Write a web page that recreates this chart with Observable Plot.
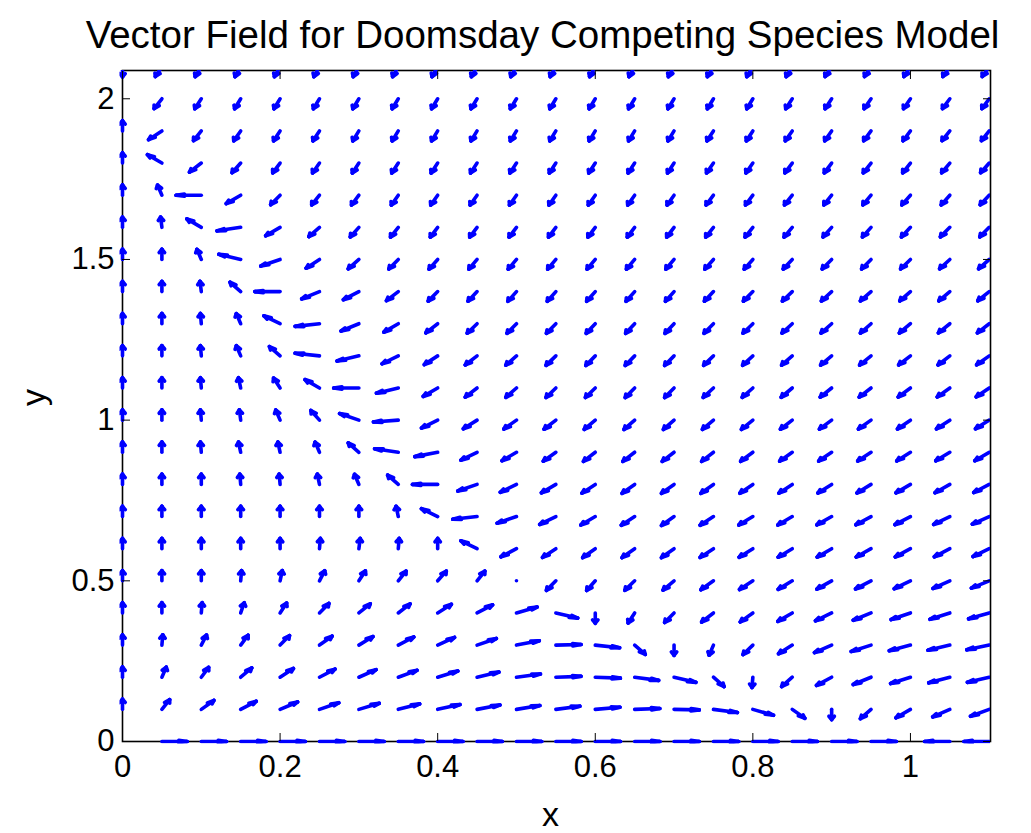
<!DOCTYPE html>
<html>
<head>
<meta charset="utf-8">
<script src="https://cdn.jsdelivr.net/npm/d3@7"></script>
<script src="https://cdn.jsdelivr.net/npm/@observablehq/plot@0.6"></script>
<style>
  html, body { margin: 0; padding: 0; background: #fff; }
  #chart { width: 1031px; height: 833px; overflow: hidden; }
</style>
</head>
<body>
<div id="chart"></div>
<script>
const title = "Vector Field for Doomsday Competing Species Model";
const xLabel = "x";
const yLabel = "y";
const xTicks = [0, 0.2, 0.4, 0.6, 0.8, 1];
const yTicks = [0, 0.5, 1, 1.5, 2];

// sample grid of the field
const xGrid = [0, 0.05, 0.1, 0.15, 0.2, 0.25, 0.3, 0.35, 0.4, 0.45, 0.5, 0.55,
               0.6, 0.65, 0.7, 0.75, 0.8, 0.85, 0.9, 0.95, 1, 1.05, 1.1];
const yGrid = [0, 0.1, 0.2, 0.3, 0.4, 0.5, 0.6, 0.7, 0.8, 0.9, 1, 1.1,
               1.2, 1.3, 1.4, 1.5, 1.6, 1.7, 1.8, 1.9, 2, 2.1];

// direction of the (normalised) field at each grid point, in degrees;
// one row per yGrid value, one column per xGrid value.
// N = no arrow, R = rest point (drawn as a dot)
const N = null, R = "rest";
const angles = [
  [N, 0, 0, 0, 0, 0, 0, 0, 0, 0, 0, 0, 0, 0, 0, 0, 0, 0, 0, 0, N, 180, 180],
  [90, 72, 60, 52, 46, 40, 36, 32, 28, 25, 22, 18, 12, 5, -3, -18, -35, -60, -90, -115, -125, -133, -138],
  [90, 80, 73, 64, 58, 52, 47, 42, 37, 30, 18, 5, -5, -18, -30, -65, -92, -115, -127, -135, -142, -147, -150],
  [90, 88, 78, 73, 68, 60, 56, 52, 48, 40, 25, 3, -15, -65, -90, -100, -113, -123, -133, -142, -147, -150, -153],
  [90, 90, 88, 82, 75, 68, 63, 62, 57, 52, 35, -30, -90, -105, -112, -118, -120, -125, -130, -135, -140, -142, -145],
  [90, 90, 90, 88, 85, 78, 75, 72, 70, 72, R, -112, -110, -113, -116, -120, -122, -124, -126, -128, -130, -132, -135],
  [90, 90, 90, 90, 90, 88, 87, 88, 90, 130, -128, -122, -120, -120, -120, -122, -123, -124, -125, -126, -127, -128, -130],
  [90, 90, 90, 90, 90, 90, 90, 95, 130, -165, -140, -130, -125, -122, -120, -122, -124, -125, -126, -127, -128, -130, -132],
  [90, 90, 90, 92, 92, 95, 100, 115, 180, -140, -130, -125, -122, -120, -120, -120, -121, -122, -123, -124, -125, -126, -128],
  [90, 90, 92, 95, 95, 100, 115, 160, -155, -130, -125, -120, -118, -118, -118, -118, -119, -120, -121, -122, -123, -124, -125],
  [90, 90, 92, 93, 100, 110, 140, -170, -130, -123, -120, -118, -116, -115, -115, -116, -117, -118, -119, -120, -121, -122, -123],
  [90, 90, 92, 95, 105, 125, 180, -150, -125, -118, -115, -113, -113, -112, -112, -114, -115, -116, -117, -118, -119, -120, -121],
  [90, 90, 92, 100, 115, 165, -150, -130, -122, -118, -115, -113, -112, -112, -112, -113, -114, -115, -116, -117, -118, -118, -120],
  [90, 90, 92, 100, 130, -165, -135, -125, -118, -113, -112, -112, -111, -111, -111, -112, -113, -114, -115, -115, -116, -117, -118],
  [90, 90, 93, 115, 180, -135, -128, -118, -112, -111, -110, -110, -110, -110, -110, -111, -112, -113, -114, -115, -115, -116, -117],
  [90, 90, 100, 150, -140, -122, -115, -112, -110, -109, -109, -109, -109, -109, -109, -110, -110, -111, -112, -112, -113, -114, -115],
  [90, 93, 125, -160, -125, -115, -110, -108, -107, -107, -107, -107, -107, -107, -107, -108, -108, -109, -110, -110, -111, -112, -112],
  [90, 100, 180, -125, -112, -108, -107, -106, -106, -106, -106, -106, -106, -106, -106, -107, -107, -108, -108, -109, -110, -110, -111],
  [90, 125, -118, -110, -107, -106, -105, -105, -105, -105, -105, -105, -105, -105, -105, -106, -106, -107, -107, -108, -108, -109, -110],
  [90, -122, -108, -106, -105, -105, -104, -104, -104, -104, -104, -104, -104, -104, -104, -105, -105, -106, -106, -107, -107, -108, -108],
  [N, -108, -105, -104, -104, -104, -104, -104, -104, -104, -104, -104, -104, -104, -104, -104, -104, -105, -105, -106, -106, -107, -107],
  [-90, -105, -104, -103, -103, -103, -103, -103, -103, -103, -103, -103, -103, -103, -103, -104, -104, -104, -105, -105, -105, -106, -106]
];

// quiver-style arrows: fixed length in data units, two-stroke heads
const arrowLength = 0.032;
const headAlpha = 0.33, headBeta = 0.33;

const segments = [];
const restPoints = [];
yGrid.forEach((y, j) => {
  xGrid.forEach((x, i) => {
    const a = angles[j][i];
    if (a === N) return;
    if (a === R) { restPoints.push({x, y}); return; }
    const t = a * Math.PI / 180;
    const u = arrowLength * Math.cos(t), v = arrowLength * Math.sin(t);
    const tx = x + u, ty = y + v;
    segments.push({x1: x, y1: y, x2: tx, y2: ty});
    segments.push({x1: tx - headAlpha * (u + headBeta * v), y1: ty - headAlpha * (v - headBeta * u), x2: tx, y2: ty});
    segments.push({x1: tx - headAlpha * (u - headBeta * v), y1: ty - headAlpha * (v + headBeta * u), x2: tx, y2: ty});
  });
});

const font = "'Liberation Sans', Arial, Helvetica, sans-serif";
const fmt = d => String(d);

const chart = Plot.plot({
  width: 1031,
  height: 833,
  marginLeft: 122,
  marginRight: 41,
  marginTop: 70,
  marginBottom: 92,
  style: {fontFamily: font, background: "#fff", color: "#000", overflow: "visible"},
  x: {domain: [0, 1.1016]},
  y: {domain: [0, 2.088]},
  marks: [
    Plot.frame({stroke: "#000", strokeWidth: 1.6}),
    Plot.link(segments, {
      x1: "x1", y1: "y1", x2: "x2", y2: "y2",
      stroke: "#0000ff", strokeWidth: 3.6, strokeLinecap: "round", strokeLinejoin: "round",
      clip: "frame"
    }),
    Plot.dot(restPoints, {x: "x", y: "y", r: 1.8, fill: "#0000ff", stroke: null}),
    Plot.axisX(xTicks, {anchor: "bottom", tickSize: -8, tickPadding: 21, fontSize: 31, tickFormat: fmt, label: null}),
    Plot.axisX(xTicks, {anchor: "top", tickSize: -8, tickFormat: () => "", label: null}),
    Plot.axisY(yTicks, {anchor: "left", tickSize: -8, tickPadding: 16, fontSize: 31, tickFormat: fmt, label: null}),
    Plot.axisY(yTicks, {anchor: "right", tickSize: -8, tickFormat: () => "", label: null}),
    Plot.text([title], {text: d => d, frameAnchor: "top", dx: -14, dy: -50, fontSize: 38.5}),
    Plot.text([xLabel], {text: d => d, frameAnchor: "bottom", dx: -6, dy: 84, fontSize: 34}),
    Plot.text([yLabel], {text: d => d, frameAnchor: "left", dx: -88, rotate: -90, fontSize: 34})
  ]
});

// let strokes lying on the left and bottom edges keep their full width
chart.querySelectorAll("clipPath rect").forEach(r => {
  const x = +r.getAttribute("x"), w = +r.getAttribute("width"), h = +r.getAttribute("height");
  r.setAttribute("x", x - 2.5);
  r.setAttribute("width", w + 2.5);
  r.setAttribute("height", h + 2.5);
});

document.getElementById("chart").appendChild(chart);
</script>
</body>
</html>
